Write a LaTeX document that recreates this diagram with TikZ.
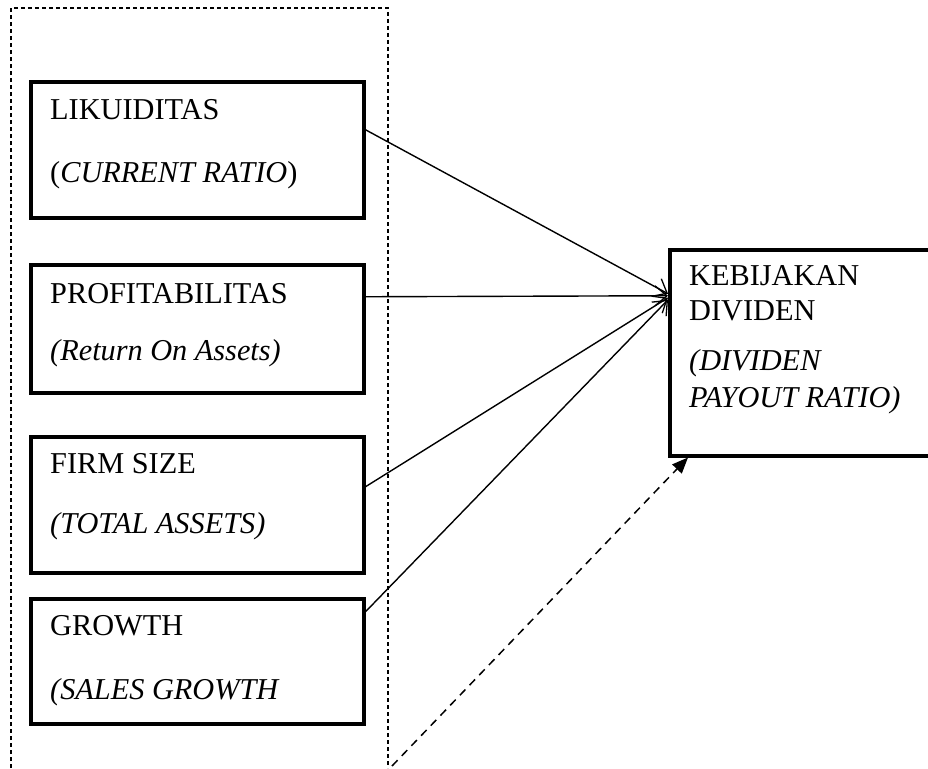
\documentclass[tikz,border=0pt]{standalone}
\usepackage{fontspec}
\setmainfont{Liberation Serif}
\usetikzlibrary{arrows.meta}
\begin{document}
\begin{tikzpicture}[x=1pt,y=-1pt,
  varbox/.style={draw,line width=3.5pt,rectangle,inner sep=0pt,anchor=north west},
  lbl/.style={anchor=base west,inner sep=0pt,font=\fontsize{30.3}{34}\selectfont},
  link/.style={line width=1.4pt,-{Straight Barb[length=12pt,width=20pt,line width=1.3pt]}},
  dlink/.style={line width=1.5pt,dash pattern=on 8pt off 6pt,-{Triangle[length=16pt,width=13pt]}},
  frame/.style={line width=2pt,dash pattern=on 4pt off 3pt}]
\useasboundingbox (0,0) rectangle (928,768);
% outer dashed frame
\coordinate (fbl) at (11,768);
\coordinate (ftl) at (11,8);
\coordinate (ftr) at (388,8);
\coordinate (fbr) at (388,768);
\draw[frame] (fbl) -- (ftl) -- (ftr) -- (fbr);
% boxes
\node[varbox,minimum width=333pt,minimum height=136pt] (b1) at (29,80) {};
\node[varbox,minimum width=333pt,minimum height=128pt] (b2) at (29,263) {};
\node[varbox,minimum width=333pt,minimum height=136pt] (b3) at (29,435) {};
\node[varbox,minimum width=333pt,minimum height=125pt] (b4) at (29,597) {};
\node[varbox,minimum width=290pt,minimum height=206pt] (y) at (668,248) {};
% texts
\node[lbl] (t1a) at (50,119) {LIKUIDITAS};
\node[lbl] (t1b) at (50,182) {(\textit{CURRENT RATIO})};
\node[lbl] (t2a) at (50,303) {PROFITABILITAS};
\node[lbl] (t2b) at (50,360) {\textit{(Return On Assets)}};
\node[lbl] (t3a) at (50,473) {FIRM SIZE};
\node[lbl] (t3b) at (50,533) {\textit{(TOTAL ASSETS)}};
\node[lbl] (t4a) at (50,635) {GROWTH};
\node[lbl] (t4b) at (50,699) {\textit{(SALES GROWTH}};
\node[lbl] (tya) at (689,285) {KEBIJAKAN};
\node[lbl] (tyb) at (689,320) {DIVIDEN};
\node[lbl] (tyc) at (689,370) {\textit{(DIVIDEN}};
\node[lbl] (tyd) at (689,407) {\textit{PAYOUT RATIO)}};
% connectors
\draw[link] ([yshift=20pt]b1.east) -- ([yshift=59pt]y.west);
\draw[link] ([yshift=32pt]b2.east) -- ([yshift=57pt]y.west);
\draw[link] ([yshift=18pt]b3.east) -- ([yshift=55pt]y.west);
\draw[link] ([yshift=49.5pt]b4.east) -- ([yshift=53pt]y.west);
\coordinate (ds) at (392,766);
\draw[dlink] (ds) -- ([xshift=20pt]y.south west);
\end{tikzpicture}
\end{document}
